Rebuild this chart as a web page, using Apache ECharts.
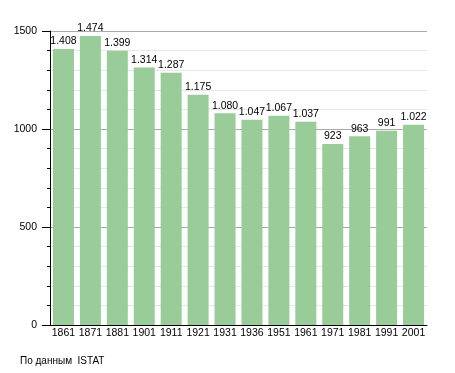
<!DOCTYPE html>
<html><head><meta charset="utf-8">
<script src="https://cdn.jsdelivr.net/npm/echarts@6/dist/echarts.min.js"></script>
<style>html,body{margin:0;padding:0;background:#fff}#c{width:455px;height:373px}</style>
</head><body><div id="c"></div>
<script>
const years = ['1861','1871','1881','1901','1911','1921','1931','1936','1951','1961','1971','1981','1991','2001'];
const population = [1408,1474,1399,1314,1287,1175,1080,1047,1067,1037,923,963,991,1022];
const yTicks = [0,500,1000,1500];
const sourceNote = 'По данным  ISTAT';

const fmt = v => v >= 1000 ? Math.floor(v/1000) + '.' + String(v%1000).padStart(3,'0') : String(v);
const FF = 'Liberation Sans, Arial, sans-serif';
const chart = echarts.init(document.getElementById('c'));
chart.setOption({
  animation:false,
  textStyle:{fontFamily:FF},
  grid:{left:50,right:28,top:31,bottom:48},
  graphic:[{type:'text',left:20,top:356,style:{text:sourceNote,fontSize:10,fill:'#000',fontFamily:FF}}],
  xAxis:{type:'category',data:years,
    axisLine:{lineStyle:{color:'#000',width:1}},
    axisTick:{show:false},
    axisLabel:{color:'#000',fontSize:10.5,margin:3,interval:0}},
  yAxis:{type:'value',min:yTicks[0],max:yTicks[yTicks.length-1],interval:500,
    axisLine:{show:true,lineStyle:{color:'#000'}},
    axisTick:{show:true,length:8,lineStyle:{color:'#000'}},
    minorTick:{show:true,splitNumber:5,length:3,lineStyle:{color:'#000'}},
    splitLine:{show:true,lineStyle:{color:'#aaa'}},
    minorSplitLine:{show:true,lineStyle:{color:'#e6e6e6'}},
    axisLabel:{color:'#000',fontSize:10.5,margin:13,formatter:v=>String(v)}},
  series:[{type:'bar',data:population,barCategoryGap:'22%',
    itemStyle:{color:'#99cc99'},
    label:{show:true,position:'top',distance:2,color:'#000',fontSize:10.5,formatter:p=>fmt(p.value)}}]
});
</script></body></html>
